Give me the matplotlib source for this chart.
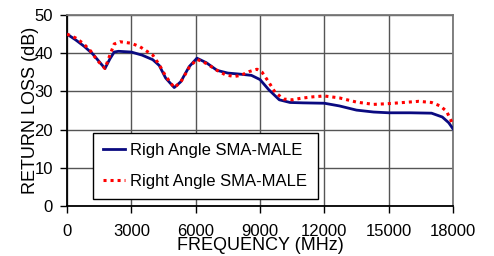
import matplotlib
matplotlib.use("Agg")
import matplotlib.pyplot as plt

plt.rcParams['font.family'] = ['Liberation Sans', 'DejaVu Sans']

# Reference data
freq_a = [0, 400, 800, 1200, 1500, 1770, 2000, 2200, 2400, 3000, 3500, 4000, 4300,
          4600, 5000, 5300, 5700, 6060, 6500, 7000, 7500, 8100, 8600, 9000, 9400,
          9900, 10400, 11000, 12000, 12700, 13500, 14300, 15000, 16000, 17000,
          17500, 17800, 18000]
loss_a = [45, 43.5, 41.8, 39.8, 37.8, 36.0, 38.5, 40.3, 40.5, 40.3, 39.5, 38.3, 36.8,
          33.5, 31.0, 32.5, 36.5, 38.7, 37.5, 35.5, 34.8, 34.5, 34.2, 33.1, 30.5,
          27.8, 27.1, 27.0, 26.9, 26.2, 25.1, 24.6, 24.4, 24.4, 24.3,
          23.3, 21.8, 20.2]

freq_b = [0, 400, 750, 1100, 1400, 1770, 2000, 2200, 2470, 3000, 3400, 4000, 4300,
          4600, 5000, 5300, 5700, 6060, 6500, 7000, 7400, 7800, 8100, 8500, 8860,
          9100, 9400, 9700, 10100, 10500, 10900, 11500, 12000, 12700, 13500,
          14300, 15000, 15700, 16400, 17000, 17400, 17700, 18000]
loss_b = [45, 44.0, 42.6, 40.6, 38.2, 36.0, 39.5, 42.4, 43.0, 42.6, 41.7, 39.5, 37.0,
          34.0, 31.0, 32.4, 36.3, 38.4, 37.3, 35.5, 34.3, 33.9, 34.2, 35.2, 35.8,
          35.0, 32.5, 29.8, 28.0, 27.8, 28.2, 28.6, 28.8, 28.3, 27.2,
          26.6, 26.8, 27.1, 27.4, 27.1, 26.2, 24.8, 21.3]

labels = ["Righ Angle SMA-MALE", "Right Angle SMA-MALE"]
xticks = [0, 3000, 6000, 9000, 12000, 15000, 18000]
yticks = [0, 10, 20, 30, 40, 50]

fig = plt.figure(figsize=(4.94, 2.56), dpi=100)
ax = fig.add_axes([67 / 494, 1 - 206 / 256, 386 / 494, 191 / 256])

ax.plot(freq_a, loss_a, color='#0a0a80', lw=2, label=labels[0], zorder=3)
ax.plot(freq_b, loss_b, color='#ff0000', lw=2.2, ls=(0, (1, 1.3)), label=labels[1], zorder=4)

ax.set_xlim(0, 18000)
ax.set_ylim(0, 50)
ax.set_xticks(xticks)
ax.set_yticks(yticks)
ax.grid(True, color='#555555', lw=1)
ax.set_axisbelow(True)
for s in ax.spines.values():
    s.set_color('#777777')
    s.set_linewidth(1.3)
ax.spines['left'].set_color('black')
ax.spines['bottom'].set_color('black')
ax.tick_params(labelsize=12, length=5, width=1, pad=8, color='black')
ax.tick_params(axis='y', pad=5)

ax.set_xlabel("FREQUENCY (MHz)", fontsize=13, labelpad=-1.5)
ax.set_ylabel("RETURN LOSS (dB)", fontsize=13, labelpad=-3)

leg = ax.legend(loc='upper left', bbox_to_anchor=(26 / 386, 73 / 191), fontsize=12,
                frameon=True, fancybox=False, edgecolor='black', framealpha=1,
                handlelength=1.3, borderpad=0.6, labelspacing=0.95, handletextpad=0.35,
                borderaxespad=0)
leg.get_frame().set_linewidth(1)

fig.savefig("out.png", dpi=100)
